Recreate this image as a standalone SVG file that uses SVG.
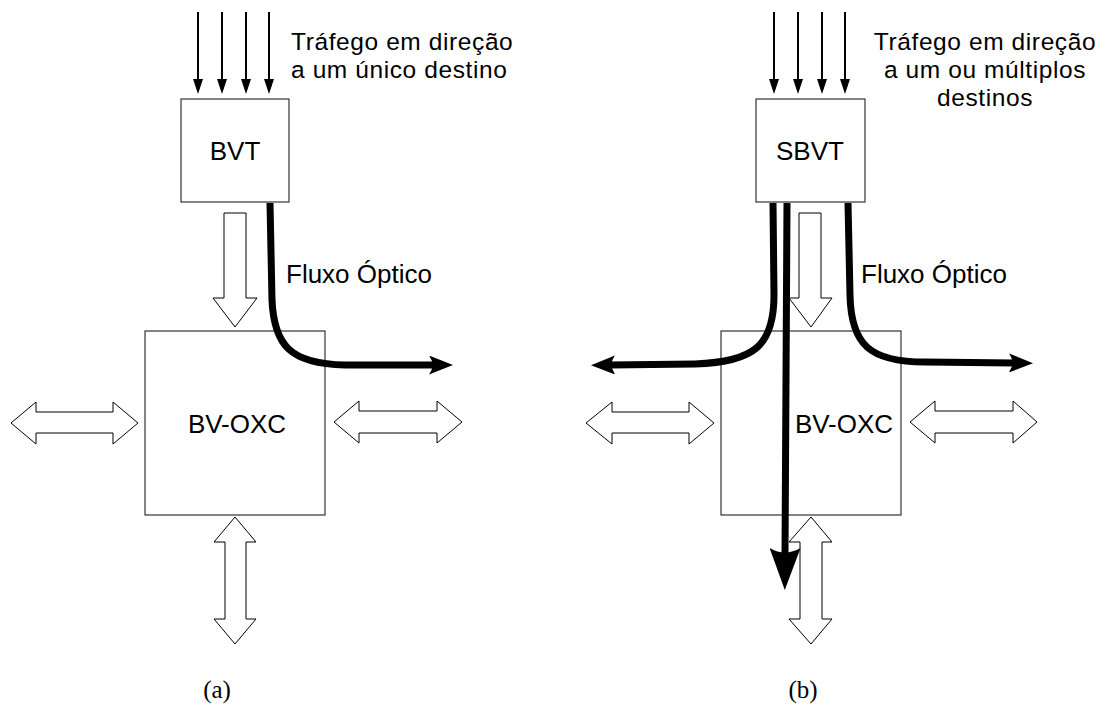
<svg xmlns="http://www.w3.org/2000/svg" width="1107" height="711" viewBox="0 0 1107 711">
<style>
.box{fill:#fff;stroke:#333;stroke-width:1.2}
.lbl{font-family:"Liberation Sans",Arial,sans-serif;font-size:26px;fill:#000}
.note{font-family:"Liberation Sans",Arial,sans-serif;font-size:24.5px;letter-spacing:0.6px;fill:#000}
.hollow{fill:#fff;stroke:#000;stroke-width:1}
.thin{fill:none;stroke:#000;stroke-width:2}
.thick{fill:none;stroke:#000;stroke-width:7}
.cap{font-family:"Liberation Serif","Times New Roman",serif;font-size:25px;fill:#000;text-anchor:middle}
</style>
<defs>
<marker id="ahd" markerUnits="userSpaceOnUse" markerWidth="16" markerHeight="10" viewBox="0 0 16 10" refX="1" refY="5" orient="auto">
<path d="M0,0 L15,5 L0,10 Z" fill="#000"/>
</marker>
<marker id="th" markerUnits="userSpaceOnUse" markerWidth="25" markerHeight="19" viewBox="0 0 25 19" refX="5" refY="9.5" orient="auto">
<path d="M0,0 L24,9.5 L0,19 Q7,9.5 0,0 Z" fill="#000"/>
</marker>
<marker id="thb" markerUnits="userSpaceOnUse" markerWidth="43" markerHeight="31" viewBox="0 0 43 31" refX="7" refY="15.5" orient="auto">
<path d="M0,0 L42,15.5 L0,31 Q9,15.5 0,0 Z" fill="#000"/>
</marker>
</defs>

<g id="panel-a">
<g id="bvt">
<rect class="box" x="181" y="99" width="108" height="103"/>
<text class="lbl" x="235" y="160" text-anchor="middle">BVT</text>
</g>
<g id="oxc-a">
<rect class="box" x="145" y="331" width="180" height="184"/>
<text class="lbl" x="237" y="433" text-anchor="middle">BV-OXC</text>
</g>
<g id="label-traffic-a">
<text class="note" x="291" y="49.5">Tráfego em direção</text>
<text class="note" x="291" y="77.7">a um único destino</text>
</g>
<g id="label-flow-a">
<text class="lbl" x="286" y="283">Fluxo Óptico</text>
</g>
<g id="hollow-a">
<polygon class="hollow" points="224,213 246,213 246,298 257,298 235,327 213,298 224,298"/>
<polygon class="hollow" points="11,423 36,402 36,412 113,412 113,402 138,423 113,444 113,433 36,433 36,444"/>
<polygon class="hollow" points="334,422 359,401 359,411 437,411 437,401 462,422 437,443 437,433 359,433 359,443"/>
<polygon class="hollow" points="235,517 256,542 246,542 246,619 256,619 235,644 214,619 225,619 225,542 214,542"/>
</g>
<text class="cap" x="217" y="698">(a)</text>
</g>

<g id="panel-b">
<g id="sbvt">
<rect class="box" x="756" y="99" width="109" height="103"/>
<text class="lbl" x="810" y="160" text-anchor="middle">SBVT</text>
</g>
<g id="oxc-b">
<rect class="box" x="721" y="331" width="180" height="184"/>
<text class="lbl" x="844" y="433" text-anchor="middle">BV-OXC</text>
</g>
<g id="label-traffic-b">
<text class="note" x="985" y="49.5" text-anchor="middle">Tráfego em direção</text>
<text class="note" x="985" y="77.7" text-anchor="middle">a um ou múltiplos</text>
<text class="note" x="985" y="105.9" text-anchor="middle">destinos</text>
</g>
<g id="label-flow-b">
<text class="lbl" x="861" y="283">Fluxo Óptico</text>
</g>
<g id="hollow-b">
<polygon class="hollow" points="799,213 821,213 821,298 832,298 811,327 789,298 799,298"/>
<polygon class="hollow" points="586,423 612,402 612,412 689,412 689,402 714,423 689,444 689,433 612,433 612,444"/>
<polygon class="hollow" points="910,422 935,401 935,411 1013,411 1013,401 1037,422 1013,443 1013,433 935,433 935,443"/>
<polygon class="hollow" points="811,517 832,542 822,542 822,619 832,619 811,644 789,619 800,619 800,542 789,542"/>
</g>
<text class="cap" x="803" y="698">(b)</text>
</g>

<g id="connectors">
<line class="thin" x1="198" y1="12" x2="198" y2="80" marker-end="url(#ahd)"/>
<line class="thin" x1="222" y1="12" x2="222" y2="80" marker-end="url(#ahd)"/>
<line class="thin" x1="246" y1="12" x2="246" y2="80" marker-end="url(#ahd)"/>
<line class="thin" x1="269" y1="12" x2="269" y2="80" marker-end="url(#ahd)"/>
<line class="thin" x1="774" y1="12" x2="774" y2="80" marker-end="url(#ahd)"/>
<line class="thin" x1="798" y1="12" x2="798" y2="80" marker-end="url(#ahd)"/>
<line class="thin" x1="822" y1="12" x2="822" y2="80" marker-end="url(#ahd)"/>
<line class="thin" x1="845" y1="12" x2="845" y2="80" marker-end="url(#ahd)"/>
<path class="thick" d="M270,203 L272,300 C274,345 290,364 345,365 L434,365" marker-end="url(#th)"/>
<path class="thick" d="M773,203 L774,295 C774,345 755,362 695,364 L610,365" marker-end="url(#th)"/>
<path class="thick" d="M848,203 L850,295 C851,345 870,362 925,362 L1014,363" marker-end="url(#th)"/>
<path class="thick" d="M787,203 L785,555" marker-end="url(#thb)"/>
</g>
</svg>
